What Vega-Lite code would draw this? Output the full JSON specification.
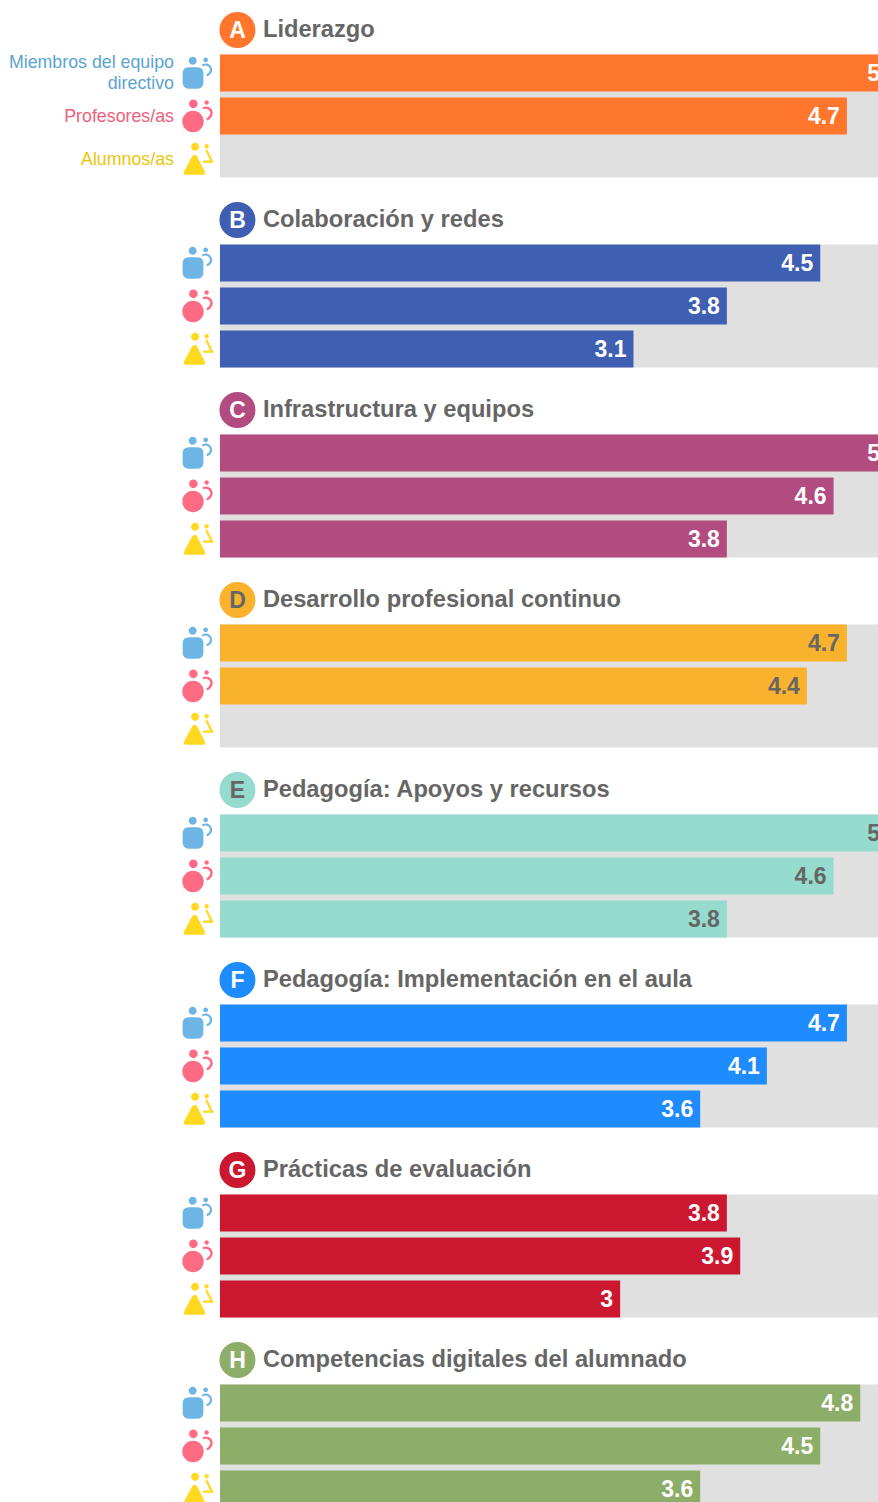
{"$schema":"https://vega.github.io/schema/vega-lite/v6.json","padding":{"top":8.5,"left":0,"right":0,"bottom":0},"autosize":{"type":"pad"},"background":"white","config":{"view":{"stroke":null},"axis":{"disable":true},"text":{"font":"Liberation Sans"}},"data":{"values":[
{"section":"A","role":"Titulo","letter":"A","title":"Liderazgo"},
{"section":"A","role":"Miembros","value":5,"label":"Miembros del equipo\ndirectivo"},
{"section":"A","role":"Profesores","value":4.7,"label":"Profesores/as"},
{"section":"A","role":"Alumnos","value":null,"label":"Alumnos/as"},
{"section":"B","role":"Titulo","letter":"B","title":"Colaboración y redes"},
{"section":"B","role":"Miembros","value":4.5},{"section":"B","role":"Profesores","value":3.8},{"section":"B","role":"Alumnos","value":3.1},
{"section":"C","role":"Titulo","letter":"C","title":"Infrastructura y equipos"},
{"section":"C","role":"Miembros","value":5},{"section":"C","role":"Profesores","value":4.6},{"section":"C","role":"Alumnos","value":3.8},
{"section":"D","role":"Titulo","letter":"D","title":"Desarrollo profesional continuo"},
{"section":"D","role":"Miembros","value":4.7},{"section":"D","role":"Profesores","value":4.4},{"section":"D","role":"Alumnos","value":null},
{"section":"E","role":"Titulo","letter":"E","title":"Pedagogía: Apoyos y recursos"},
{"section":"E","role":"Miembros","value":5},{"section":"E","role":"Profesores","value":4.6},{"section":"E","role":"Alumnos","value":3.8},
{"section":"F","role":"Titulo","letter":"F","title":"Pedagogía: Implementación en el aula"},
{"section":"F","role":"Miembros","value":4.7},{"section":"F","role":"Profesores","value":4.1},{"section":"F","role":"Alumnos","value":3.6},
{"section":"G","role":"Titulo","letter":"G","title":"Prácticas de evaluación"},
{"section":"G","role":"Miembros","value":3.8},{"section":"G","role":"Profesores","value":3.9},{"section":"G","role":"Alumnos","value":3},
{"section":"H","role":"Titulo","letter":"H","title":"Competencias digitales del alumnado"},
{"section":"H","role":"Miembros","value":4.8},{"section":"H","role":"Profesores","value":4.5},{"section":"H","role":"Alumnos","value":3.6}
]},
"facet":{"row":{"field":"section","type":"nominal","header":null}},
"spacing":{"row":18},
"spec":{"width":878,"height":172,
"encoding":{"y":{"field":"role","type":"nominal","axis":null,"scale":{"domain":["Titulo","Miembros","Profesores","Alumnos"],"paddingInner":0.14,"paddingOuter":0.07}}},
"layer":[
{"transform":[{"filter":"datum.role==='Profesores'"}],"mark":{"type":"bar","color":"#E0E0E0","clip":true,"height":123},"encoding":{"x":{"datum":4.933,"type":"quantitative","stack":null,"scale":{"domain":[-1.649,4.933],"nice":false,"zero":false}}}},
{"transform":[{"filter":"datum.role!=='Titulo' && datum.value!=null"}],"mark":{"type":"bar","clip":true},"encoding":{"x":{"field":"value","type":"quantitative","stack":null},"color":{"field":"section","type":"nominal","legend":null,"scale":{"domain":["A","B","C","D","E","F","G","H","Miembros","Profesores","Alumnos"],"range":["#FF762C","#3F5FB3","#B24B7F","#F9B22D","#95DBCE","#1E8BFF","#CC1731","#8CAE68","#6DB5E4","#FF6B82","#FFD81F"]}}}},
{"transform":[{"filter":"datum.role!=='Titulo' && datum.value!=null"}],"mark":{"type":"text","align":"right","baseline":"middle","dx":-7,"dy":1,"fontSize":23,"fontWeight":"bold","clip":true},"encoding":{"x":{"field":"value","type":"quantitative"},"text":{"field":"value","type":"quantitative"},"color":{"condition":{"test":"datum.section==='D'||datum.section==='E'","value":"#666666"},"value":"#ffffff"}}},
{"transform":[{"filter":"datum.role==='Titulo'"}],"mark":{"type":"point","filled":true,"opacity":1,"shape":"circle","size":1296},"encoding":{"x":{"datum":0.131,"type":"quantitative"},"color":{"field":"section","type":"nominal","legend":null}}},
{"transform":[{"filter":"datum.role==='Titulo'"}],"mark":{"type":"text","align":"center","baseline":"middle","dy":0.5,"fontSize":23,"fontWeight":"bold"},"encoding":{"x":{"datum":0.131,"type":"quantitative"},"text":{"field":"letter","type":"nominal"},"color":{"condition":{"test":"datum.section==='D'||datum.section==='E'","value":"#666666"},"value":"#ffffff"}}},
{"transform":[{"filter":"datum.role==='Titulo'"}],"mark":{"type":"text","align":"left","baseline":"middle","dy":0,"fontSize":23.7,"fontWeight":"bold","color":"#666666"},"encoding":{"x":{"datum":0.322,"type":"quantitative"},"text":{"field":"title","type":"nominal"}}},
{"transform":[{"filter":"datum.role!=='Titulo'"}],"mark":{"type":"point","filled":true,"opacity":1,"size":1024},"encoding":{"x":{"datum":-0.172,"type":"quantitative"},"color":{"field":"role","type":"nominal","legend":null},"shape":{"field":"role","type":"nominal","legend":null,"scale":{"domain":["Miembros","Profesores","Alumnos"],"range":[
"M-0.5 -0.36 H0.02 Q0.4 -0.36 0.4 0.02 V0.6 Q0.4 0.98 0.02 0.98 H-0.5 Q-0.9 0.98 -0.9 0.6 V0.02 Q-0.9 -0.36 -0.5 -0.36 Z M-0.52 -0.76 A0.25 0.25 0 1 0 -0.02 -0.76 A0.25 0.25 0 1 0 -0.52 -0.76 Z M0.39 -0.825 A0.15 0.15 0 1 0 0.69 -0.825 A0.15 0.15 0 1 0 0.39 -0.825 Z M0.3 -0.52 Q0.55 -0.68 0.78 -0.52 Q1.02 -0.32 0.92 -0.05 Q0.85 0.12 0.62 0.2 L0.58 0.08 Q0.72 0.02 0.78 -0.1 Q0.86 -0.3 0.68 -0.42 Q0.5 -0.52 0.34 -0.4 Z",
"M-0.92 0.34 A0.67 0.67 0 1 0 0.42 0.34 A0.67 0.67 0 1 0 -0.92 0.34 Z M-0.5 -0.76 A0.27 0.27 0 1 0 0.04 -0.76 A0.27 0.27 0 1 0 -0.5 -0.76 Z M0.46 -0.84 A0.14 0.14 0 1 0 0.74 -0.84 A0.14 0.14 0 1 0 0.46 -0.84 Z M0.34 -0.54 Q0.6 -0.68 0.84 -0.5 Q1.06 -0.28 0.94 0 Q0.86 0.18 0.64 0.28 L0.58 0.15 Q0.74 0.06 0.8 -0.08 Q0.88 -0.26 0.72 -0.38 Q0.56 -0.5 0.38 -0.42 Z",
"M-0.2 -0.24 Q-0.1 -0.3 0 -0.16 L0.48 0.76 Q0.58 0.98 0.36 0.98 H-0.68 Q-0.9 0.98 -0.8 0.76 L-0.32 -0.14 Q-0.26 -0.24 -0.2 -0.24 Z M-0.375 -0.76 A0.25 0.25 0 1 0 0.125 -0.76 A0.25 0.25 0 1 0 -0.375 -0.76 Z M0.46 -0.8 A0.14 0.14 0 1 0 0.74 -0.8 A0.14 0.14 0 1 0 0.46 -0.8 Z M0.62 -0.62 L1.05 0.24 L0.38 0.24 L0.38 0.1 L0.82 0.1 L0.52 -0.52 Z"]}}}},
{"transform":[{"filter":"datum.label!=null && datum.role==='Miembros'"}],"mark":{"type":"text","align":"right","baseline":"middle","dy":-10,"fontSize":17.8,"lineBreak":"\n","lineHeight":21,"color":"#5BA4CF"},"encoding":{"x":{"datum":-0.345,"type":"quantitative"},"text":{"field":"label","type":"nominal"}}},
{"transform":[{"filter":"datum.label!=null && datum.role!=='Miembros'"}],"mark":{"type":"text","align":"right","baseline":"middle","dy":1,"fontSize":17.8},"encoding":{"x":{"datum":-0.345,"type":"quantitative"},"text":{"field":"label","type":"nominal"},"color":{"condition":{"test":"datum.role==='Profesores'","value":"#F0607A"},"value":"#E8C80A"}}}
]}}
